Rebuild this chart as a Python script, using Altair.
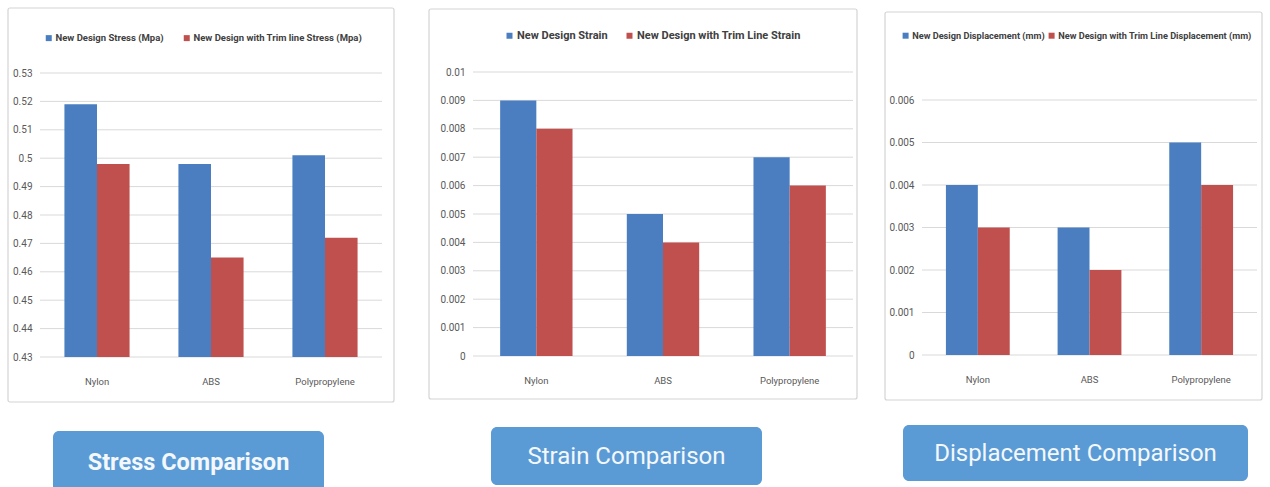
import altair as alt
import pandas as pd

# ---- data -------------------------------------------------------------
materials = ["Nylon", "ABS", "Polypropylene"]

stress_names = ["New Design Stress (Mpa)", "New Design with Trim line Stress (Mpa)"]
stress_new = [0.519, 0.498, 0.501]
stress_trim = [0.498, 0.465, 0.472]
stress_ticks = [0.43, 0.44, 0.45, 0.46, 0.47, 0.48, 0.49, 0.50, 0.51, 0.52, 0.53]

strain_names = ["New Design Strain", "New Design with Trim Line Strain"]
strain_new = [0.009, 0.005, 0.007]
strain_trim = [0.008, 0.004, 0.006]
strain_ticks = [0, 0.001, 0.002, 0.003, 0.004, 0.005, 0.006, 0.007, 0.008, 0.009, 0.01]

disp_names = ["New Design Displacement (mm)", "New Design with Trim Line Displacement (mm)"]
disp_new = [0.004, 0.003, 0.005]
disp_trim = [0.003, 0.002, 0.004]
disp_ticks = [0, 0.001, 0.002, 0.003, 0.004, 0.005, 0.006]

titles = ["Stress Comparison", "Strain Comparison", "Displacement Comparison"]

# ---- styling ----------------------------------------------------------
W, H = 1270, 487
BLUE, RED = "#4A7EC0", "#C0504D"
GRID = "#D9D9D9"
FONT = "Roboto"
LABEL_GRAY = "#595959"


def panel(names, new, trim, ticks, xr, yr, legend_xy, legend_size, legend_pad):
    base = ticks[0]
    bars_df = pd.DataFrame({
        "material": materials * 2,
        "series": [names[0]] * 3 + [names[1]] * 3,
        "value": new + trim,
        "base": [base] * 6,
    })
    grid_df = pd.DataFrame({"tick": ticks})

    y_scale = alt.Scale(domain=[ticks[0], ticks[-1]], range=[yr[0], yr[1]],
                        zero=False, nice=False)

    grid = alt.Chart(grid_df).mark_rule(color=GRID, strokeWidth=1).encode(
        y=alt.Y("tick:Q", scale=y_scale,
                axis=alt.Axis(orient="left", offset=-xr[0], values=ticks,
                              labelExpr="format(datum.value, '.3~f')",
                              grid=False, ticks=False, domain=False,
                              labelPadding=8, labelFont=FONT, labelFontSize=10,
                              labelColor=LABEL_GRAY, title=None, zindex=2)),
        x=alt.value(xr[0]),
        x2=alt.value(xr[1]),
    )

    bars = alt.Chart(bars_df).mark_bar().encode(
        x=alt.X("material:N", sort=materials,
                scale=alt.Scale(range=[xr[0], xr[1]], paddingInner=1.5 / 3.5,
                                paddingOuter=0.75 / 3.5),
                axis=alt.Axis(orient="bottom", offset=yr[0] - H, labelAngle=0,
                              ticks=False, domain=False, grid=False,
                              labelPadding=19, labelFont=FONT, labelFontSize=9.5,
                              labelColor=LABEL_GRAY, title=None, zindex=2)),
        xOffset=alt.XOffset("series:N", sort=names),
        y=alt.Y("value:Q", scale=y_scale),
        y2="base:Q",
        color=alt.Color("series:N", sort=names,
                        scale=alt.Scale(domain=names, range=[BLUE, RED]),
                        legend=alt.Legend(orient="none", legendX=legend_xy[0],
                                          legendY=legend_xy[1],
                                          direction="horizontal", title=None,
                                          symbolType="square", symbolSize=36,
                                          symbolStrokeWidth=0,
                                          labelFont=FONT, labelFontSize=legend_size,
                                          labelFontWeight="bold",
                                          labelColor="#404040", labelLimit=400,
                                          labelOffset=2, columnPadding=legend_pad,
                                          zindex=2)),
    )
    return alt.layer(grid, bars)


def frame(x0, x1, y0, y1):
    return alt.Chart(pd.DataFrame({"k": [0]})).mark_rect(
        fill="white", stroke="#D4D4D4", strokeWidth=1.2, cornerRadius=2
    ).encode(x=alt.value(x0), x2=alt.value(x1), y=alt.value(y0), y2=alt.value(y1))


def button(label, x0, x1, y0, y1, weight, size):
    df = pd.DataFrame({"label": [label]})
    box = alt.Chart(df).mark_rect(fill="#5B9BD5", cornerRadius=6).encode(
        x=alt.value(x0), x2=alt.value(x1), y=alt.value(y0), y2=alt.value(y1))
    txt = alt.Chart(df).mark_text(font=FONT, fontSize=size, fontWeight=weight,
                                  color="#F4F8FC", align="center",
                                  baseline="middle").encode(
        text="label:N", x=alt.value((x0 + x1) / 2), y=alt.value((y0 + y1) / 2 + 1))
    return alt.layer(box, txt)


frames = alt.layer(
    frame(8, 394, 8, 402),
    frame(429, 857, 9, 399),
    frame(885, 1262, 12, 400),
)

p1 = panel(stress_names, stress_new, stress_trim, stress_ticks,
           (40, 382), (357, 73), (44, 33), 9.5, 18)
p2 = panel(strain_names, strain_new, strain_trim, strain_ticks,
           (473, 853), (356, 72), (504, 30), 11, 16)
p3 = panel(disp_names, disp_new, disp_trim, disp_ticks,
           (922, 1257), (355, 100), (901, 31), 9.2, 2)

buttons = alt.layer(
    button(titles[0], 53, 324, 431, 492, "bold", 23.5),
    button(titles[1], 491, 762, 427, 485, "normal", 24),
    button(titles[2], 903, 1248, 425, 481, "normal", 24),
)

chart = alt.layer(frames, p1, p2, p3, buttons).resolve_scale(
    x="independent", y="independent", xOffset="independent", color="independent"
).properties(
    width=W, height=H, padding=0,
    autosize=alt.AutoSizeParams(type="none"),
    background="white",
).configure_view(stroke=None)

chart.save("out.html", embed_options={"renderer": "svg", "actions": False})
